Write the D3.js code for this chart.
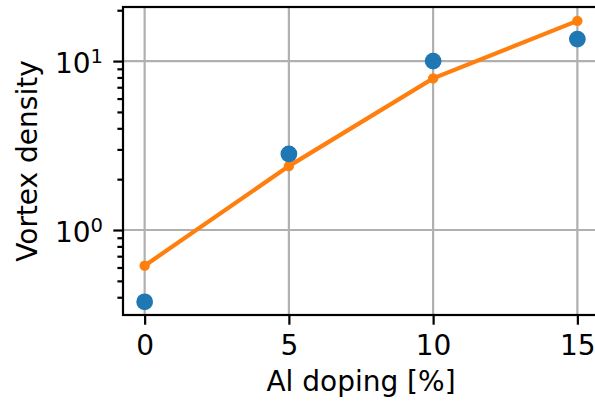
<!DOCTYPE html>
<html>
<head>
<meta charset="utf-8">
<script src="https://cdn.jsdelivr.net/npm/d3@7"></script>
<style>
  body { margin: 0; background: #fff; }
  svg { display: block; font-family: "DejaVu Sans", sans-serif; }
</style>
</head>
<body>
<div id="chart"></div>
<script>
// Data
const doping = [0, 5, 10, 15];                 // Al doping [%]
const measured = [0.376, 2.82, 10.0, 13.5];     // blue dots
const model = [0.615, 2.39, 7.9, 17.3];         // orange line with markers
const xTicks = [0, 5, 10, 15];
const yMajor = [1, 10];                         // labelled decades

// Canvas and plot box
const W = 595, H = 407;
const margin = { top: 7, right: -4, bottom: 92, left: 123 };
const width = W - margin.left - margin.right;
const height = H - margin.top - margin.bottom;
const fs = 28;   // font size used for all text

const svg = d3.select("#chart").append("svg")
  .attr("width", W).attr("height", H);

const g = svg.append("g")
  .attr("transform", `translate(${margin.left},${margin.top})`);

// Scales (matplotlib style 5% margins)
const x = d3.scaleLinear().domain([-0.75, 15.75]).range([0, width]);
const y = d3.scaleLog().domain([0.314, 20.9]).range([height, 0]);

// Minor ticks on the log axis
const yMinor = [];
[0.1, 1, 10].forEach(d => {
  for (let k = 2; k <= 9; k++) {
    const v = d * k;
    if (v >= y.domain()[0] && v <= y.domain()[1]) yMinor.push(v);
  }
});

// Grid lines
const grid = g.append("g");
grid.selectAll(".gx").data(xTicks).enter().append("line")
  .attr("x1", d => x(d)).attr("x2", d => x(d))
  .attr("y1", 0).attr("y2", height)
  .attr("stroke", "#b0b0b0").attr("stroke-width", 2.2);
grid.selectAll(".gy").data(yMajor).enter().append("line")
  .attr("x1", 0).attr("x2", width)
  .attr("y1", d => y(d)).attr("y2", d => y(d))
  .attr("stroke", "#b0b0b0").attr("stroke-width", 2.2);

// Orange line + markers
const line = d3.line().x((d, i) => x(doping[i])).y(d => y(d));
g.append("path").datum(model)
  .attr("fill", "none").attr("stroke", "#ff7f0e")
  .attr("stroke-width", 4.2).attr("d", line);
g.selectAll(".mk").data(model).enter().append("circle")
  .attr("cx", (d, i) => x(doping[i])).attr("cy", d => y(d))
  .attr("r", 5.2).attr("fill", "#ff7f0e");

// Blue points
g.selectAll(".pt").data(measured).enter().append("circle")
  .attr("cx", (d, i) => x(doping[i])).attr("cy", d => y(d))
  .attr("r", 8.4).attr("fill", "#1f77b4");

// Axes
const xAxis = g.append("g")
  .attr("transform", `translate(0,${height})`)
  .call(d3.axisBottom(x).tickValues(xTicks).tickFormat(d3.format("d"))
    .tickSize(9.7).tickPadding(10));
const yAxis = g.append("g")
  .call(d3.axisLeft(y).tickValues(yMajor).tickFormat("").tickSize(9.7));
g.append("g")
  .call(d3.axisLeft(y).tickValues(yMinor).tickFormat("").tickSize(5.6))
  .select(".domain").remove();

[xAxis, yAxis].forEach(a => {
  a.select(".domain").remove();
  a.selectAll("text").attr("fill", "#000").style("font-size", fs + "px")
    .style("font-family", "DejaVu Sans");
});
g.selectAll(".tick line").attr("stroke", "#000").attr("stroke-width", 2.2);

// Y tick labels as 10^n
yMajor.forEach(v => {
  const t = g.append("text")
    .attr("x", -20).attr("y", y(v) + 12)
    .attr("text-anchor", "end")
    .style("font-size", fs + "px").attr("fill", "#000");
  t.append("tspan").text("10");
  t.append("tspan").text(Math.round(Math.log10(v)))
    .attr("dy", -10).style("font-size", (fs * 0.7) + "px");
});

// Spines
g.append("rect").attr("x", 0).attr("y", 0)
  .attr("width", width).attr("height", height)
  .attr("fill", "none").attr("stroke", "#000").attr("stroke-width", 2.2);

// Axis labels
svg.append("text")
  .attr("x", margin.left + x(7.5)).attr("y", 391)
  .attr("text-anchor", "middle").style("font-size", fs + "px")
  .text("Al doping [%]");
svg.append("text")
  .attr("transform", `translate(37,${margin.top + height / 2}) rotate(-90)`)
  .attr("text-anchor", "middle").style("font-size", fs + "px")
  .text("Vortex density");
</script>
</body>
</html>
